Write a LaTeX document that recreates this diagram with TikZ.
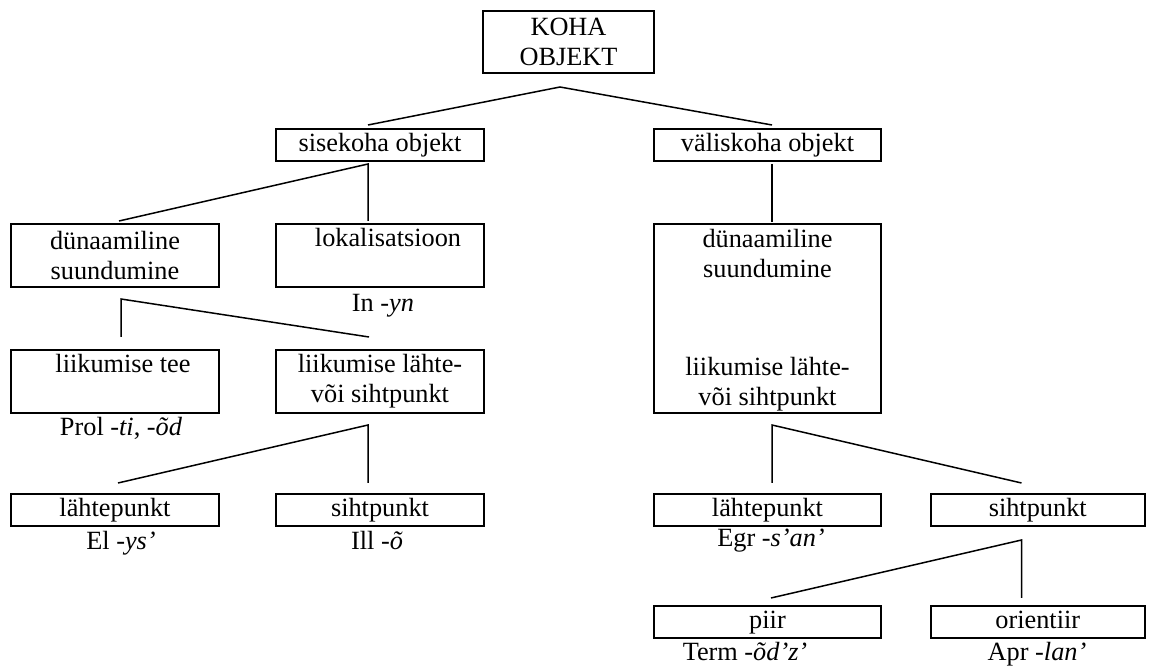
\documentclass[tikz,border=0pt]{standalone}
\usepackage{fontspec}
\setmainfont{Liberation Serif}

\begin{document}
\begin{tikzpicture}[x=0.5pt,y=-0.5pt,font=\fontsize{13.15}{15}\selectfont,
        box/.style={draw, line width=1pt, inner sep=0pt, align=center},
        one/.style={box, minimum height=16pt, text height=9.3pt, text depth=3pt},
        case/.style={anchor=base, inner sep=0pt},
        link/.style={line width=0.75pt}]
        \useasboundingbox (0,0) rectangle (1153,668);
        % boxes
        \node[box, minimum width=85.5pt, minimum height=31pt] (koha) at (568.5,42) {KOHA\\OBJEKT};
        \node[one, minimum width=104pt] (sise) at (380,145) {sisekoha objekt};
        \node[one, minimum width=113.5pt] (vali) at (767.5,145) {väliskoha objekt};
        \node[box, minimum width=104pt, minimum height=31.5pt] (dyn) at (115,255.5) {dünaamiline\\suundumine};
        \node[box, minimum width=104pt, minimum height=31.5pt] (lok) at (380,255.5) {\strut\hspace{8pt}lokalisatsioon\\\strut};
        \node[box, minimum width=104pt, minimum height=31.5pt] (tee) at (115,381.5) {\strut\hspace{8pt}liikumise tee\\\strut};
        \node[box, minimum width=104pt, minimum height=31.5pt] (lahte) at (380,381.5) {liikumise lähte-\\või sihtpunkt};
        \node[one, minimum width=104pt] (lp) at (115,510) {lähtepunkt};
        \node[one, minimum width=104pt] (sp) at (380,510) {sihtpunkt};
        \node[box, minimum width=113.5pt, minimum height=94.5pt] (dynv) at (767.5,318.5) {};
        \node[align=center, inner sep=0pt] (dynvt) at (767.5,320) {dünaamiline\\suundumine\\[34pt]liikumise lähte-\\või sihtpunkt};
        \node[one, minimum width=113.5pt] (lpv) at (767.5,510) {lähtepunkt};
        \node[one, minimum width=107.25pt] (spv) at (1037.75,510) {sihtpunkt};
        \node[one, minimum width=113.5pt] (piir) at (767.5,622) {piir};
        \node[one, minimum width=107.25pt] (ori) at (1037.75,622) {orientiir};
        % case labels
        \node[case] (in) at (383,312) {In -\textit{yn}};
        \node[case] (prol) at (121,436) {Prol -\textit{ti}, -\textit{õd}};
        \node[case] (el) at (121,550) {El -\textit{ys’}};
        \node[case] (ill) at (377,550) {Ill -\textit{õ}};
        \node[case] (egr) at (771,546) {Egr -\textit{s’an’}};
        \node[case] (term) at (745,661) {Term -\textit{õd’z’}};
        \node[case] (apr) at (1037,661) {Apr -\textit{lan’}};
        % branch points
        \coordinate (k0) at (560,87);   \coordinate (k1) at (368,125);  \coordinate (k2) at (772,125);
        \coordinate (s0) at (368,164);  \coordinate (s1) at (119,221);  \coordinate (s2) at (368,221);
        \coordinate (d0) at (121,299);  \coordinate (d1) at (121,337);  \coordinate (d2) at (369,337);
        \coordinate (l0) at (368,425);  \coordinate (l1) at (118,483);  \coordinate (l2) at (368,483);
        \coordinate (v0) at (772,164);  \coordinate (v1) at (772,222);
        \coordinate (b0) at (772,425);  \coordinate (b1) at (772,483);  \coordinate (b2) at (1021.5,483);
        \coordinate (h0) at (1021.5,540); \coordinate (h1) at (771,598); \coordinate (h2) at (1021.5,598);
        \draw[link] (k1) -- (k0) -- (k2);
        \draw[link] (s1) -- (s0) -- (s2);
        \draw[link] (d1) -- (d0) -- (d2);
        \draw[link] (l1) -- (l0) -- (l2);
        \draw[link] (v0) -- (v1);
        \draw[link] (b1) -- (b0) -- (b2);
        \draw[link] (h1) -- (h0) -- (h2);
\end{tikzpicture}
\end{document}
